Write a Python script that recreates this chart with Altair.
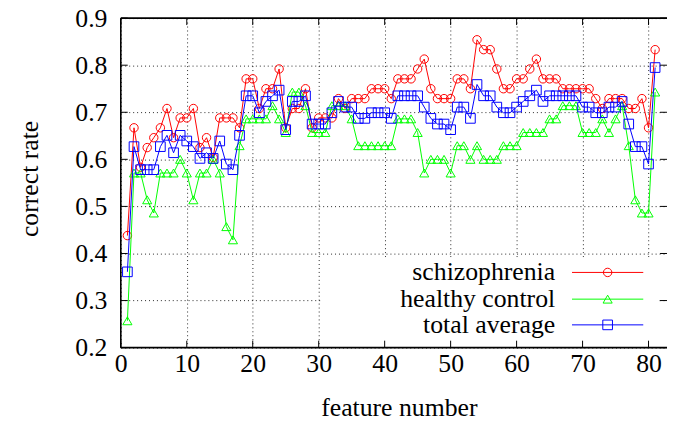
import altair as alt
import pandas as pd

# ---------------- data ----------------
features = list(range(1, 82))

schizophrenia = [
    0.438, 0.667, 0.583, 0.625, 0.646, 0.667, 0.708, 0.646, 0.688, 0.688,
    0.708, 0.625, 0.646, 0.604, 0.688, 0.688, 0.688, 0.667, 0.771, 0.771,
    0.708, 0.750, 0.750, 0.792, 0.667, 0.708, 0.708, 0.750, 0.667, 0.688,
    0.688, 0.688, 0.729, 0.708, 0.729, 0.729, 0.729, 0.750, 0.750, 0.750,
    0.729, 0.771, 0.771, 0.771, 0.792, 0.813, 0.750, 0.729, 0.729, 0.729,
    0.771, 0.771, 0.750, 0.854, 0.833, 0.833, 0.792, 0.750, 0.750, 0.771,
    0.771, 0.792, 0.813, 0.771, 0.771, 0.771, 0.750, 0.750, 0.750, 0.750,
    0.750, 0.729, 0.708, 0.729, 0.729, 0.729, 0.708, 0.708, 0.729, 0.667,
    0.833,
]

healthy_control = [
    0.257, 0.571, 0.571, 0.514, 0.486, 0.571, 0.571, 0.571, 0.600, 0.571,
    0.514, 0.571, 0.571, 0.600, 0.571, 0.457, 0.429, 0.629, 0.686, 0.686,
    0.686, 0.686, 0.714, 0.686, 0.657, 0.743, 0.743, 0.714, 0.657, 0.657,
    0.657, 0.714, 0.714, 0.714, 0.686, 0.629, 0.629, 0.629, 0.629, 0.629,
    0.629, 0.686, 0.686, 0.686, 0.657, 0.571, 0.600, 0.600, 0.600, 0.571,
    0.629, 0.629, 0.600, 0.629, 0.600, 0.600, 0.600, 0.629, 0.629, 0.629,
    0.657, 0.657, 0.657, 0.657, 0.686, 0.686, 0.714, 0.714, 0.714, 0.657,
    0.657, 0.657, 0.686, 0.657, 0.686, 0.714, 0.629, 0.514, 0.486, 0.486,
    0.743,
]

total_average = [
    0.361, 0.627, 0.578, 0.578, 0.578, 0.627, 0.651, 0.614, 0.651, 0.639,
    0.627, 0.602, 0.614, 0.602, 0.639, 0.590, 0.578, 0.651, 0.735, 0.735,
    0.699, 0.723, 0.735, 0.747, 0.663, 0.723, 0.723, 0.735, 0.675, 0.675,
    0.675, 0.699, 0.723, 0.711, 0.711, 0.687, 0.687, 0.699, 0.699, 0.699,
    0.687, 0.735, 0.735, 0.735, 0.735, 0.711, 0.687, 0.675, 0.675, 0.663,
    0.711, 0.711, 0.687, 0.759, 0.735, 0.735, 0.711, 0.699, 0.699, 0.711,
    0.723, 0.735, 0.747, 0.723, 0.735, 0.735, 0.735, 0.735, 0.735, 0.711,
    0.711, 0.699, 0.699, 0.711, 0.711, 0.723, 0.675, 0.627, 0.627, 0.590,
    0.795,
]

series_names = ["schizophrenia", "healthy control", "total average"]
series_values = [schizophrenia, healthy_control, total_average]
series_colors = ["#ff0000", "#00ff00", "#0000ff"]
series_shapes = ["circle", "triangle-up", "square"]
series_sizes = [72, 85, 95]

x_ticks = [0, 10, 20, 30, 40, 50, 60, 70, 80]
y_ticks = [0.2, 0.3, 0.4, 0.5, 0.6, 0.7, 0.8, 0.9]

# ---------------- layout ----------------
FONT = "Liberation Serif"
FS = 26
W, H = 552, 333
TICK = 7

rows = []
for name, vals in zip(series_names, series_values):
    for f, v in zip(features, vals):
        rows.append({"feature": f, "rate": v, "series": name})
df = pd.DataFrame(rows)

xs = alt.Scale(domain=[0, 82.8], nice=False, zero=False)
ys = alt.Scale(domain=[0.2, 0.9], nice=False, zero=False)

x_axis = alt.Axis(
    values=x_ticks, grid=True, gridColor="#000", gridDash=[1, 3], gridOpacity=0.85,
    gridWidth=1, domain=False, ticks=False, labelFlush=False, labelOverlap=False,
    labelFont=FONT, labelFontSize=FS, labelColor="#000", labelPadding=3,
    title="feature number", titleFont=FONT, titleFontSize=FS, titleFontWeight="normal",
    titleColor="#000", titleX=281, titleY=61, titleBaseline="middle", titleAlign="center",
)
y_axis = alt.Axis(
    values=y_ticks, format=".1f", grid=True, gridColor="#000", gridDash=[1, 3],
    gridOpacity=0.85, gridWidth=1, domain=False, ticks=False, labelFlush=False,
    labelOverlap=False, labelFont=FONT, labelFontSize=FS, labelColor="#000",
    labelPadding=14,
    title="correct rate", titleFont=FONT, titleFontSize=FS, titleFontWeight="normal",
    titleColor="#000", titleX=-92, titleY=162, titleBaseline="middle", titleAlign="center",
)

x_enc = alt.X("feature:Q", scale=xs, axis=x_axis)
y_enc = alt.Y("rate:Q", scale=ys, axis=y_axis)

one = pd.DataFrame({"k": [0]})
layers = []

# opaque legend box (hides the grid behind the key, like gnuplot's opaque key)
layers.append(
    alt.Chart(one).mark_rect(color="white").encode(
        x=alt.value(202), x2=alt.value(543), y=alt.value(242), y2=alt.value(H)
    )
)

# data series: line + open markers
for name, color, shape, size in zip(series_names, series_colors, series_shapes, series_sizes):
    base = alt.Chart(df).transform_filter(alt.datum.series == name)
    layers.append(base.mark_line(color=color, strokeWidth=1).encode(x=x_enc, y=y_enc))
    layers.append(
        base.mark_point(shape=shape, filled=False, color=color, size=size, strokeWidth=1, opacity=1)
        .encode(x=x_enc, y=y_enc)
    )

# legend (text on the left, sample line with marker on the right)
legend_rows = [257, 284, 310]
for name, color, shape, size, ry in zip(series_names, series_colors, series_shapes,
                                        series_sizes, legend_rows):
    ldf = pd.DataFrame({"name": [name]})
    layers.append(
        alt.Chart(ldf).mark_text(align="right", baseline="middle", font=FONT,
                                 fontSize=FS, color="#000").encode(
            x=alt.value(439), y=alt.value(ry), text="name:N"
        )
    )
    layers.append(
        alt.Chart(ldf).mark_rule(color=color, strokeWidth=1).encode(
            x=alt.value(456), x2=alt.value(528), y=alt.value(ry)
        )
    )
    layers.append(
        alt.Chart(ldf).mark_point(shape=shape, filled=False, color=color, size=size,
                                  strokeWidth=1, opacity=1).encode(
            x=alt.value(492), y=alt.value(ry)
        )
    )

# inward tick marks on all four sides
xt = pd.DataFrame({"feature": x_ticks})
yt = pd.DataFrame({"rate": y_ticks})
layers.append(alt.Chart(xt).mark_rule(color="#000", strokeWidth=1).encode(
    x=x_enc, y=alt.value(H), y2=alt.value(H - TICK)))
layers.append(alt.Chart(xt).mark_rule(color="#000", strokeWidth=1).encode(
    x=x_enc, y=alt.value(0), y2=alt.value(TICK)))
layers.append(alt.Chart(yt).mark_rule(color="#000", strokeWidth=1).encode(
    y=y_enc, x=alt.value(0), x2=alt.value(TICK)))
layers.append(alt.Chart(yt).mark_rule(color="#000", strokeWidth=1).encode(
    y=y_enc, x=alt.value(W - TICK), x2=alt.value(W)))

# border (left, bottom, top; the right edge lies at the picture's edge)
layers.append(alt.Chart(one).mark_rule(color="#000", strokeWidth=1.6).encode(
    x=alt.value(0), y=alt.value(0), y2=alt.value(H)))
layers.append(alt.Chart(one).mark_rule(color="#000", strokeWidth=1.6).encode(
    x=alt.value(0), x2=alt.value(W), y=alt.value(H)))
layers.append(alt.Chart(one).mark_rule(color="#000", strokeWidth=1.6).encode(
    x=alt.value(0), x2=alt.value(W), y=alt.value(0)))

chart = (
    alt.layer(*layers)
    .properties(
        width=W, height=H,
        padding={"left": 114, "top": 8, "right": 0, "bottom": 80},
        autosize=alt.AutoSizeParams(type="none"),
        background="white",
    )
    .configure_view(stroke=None)
)

chart.save("out.html", embed_options={"renderer": "svg", "actions": False})
